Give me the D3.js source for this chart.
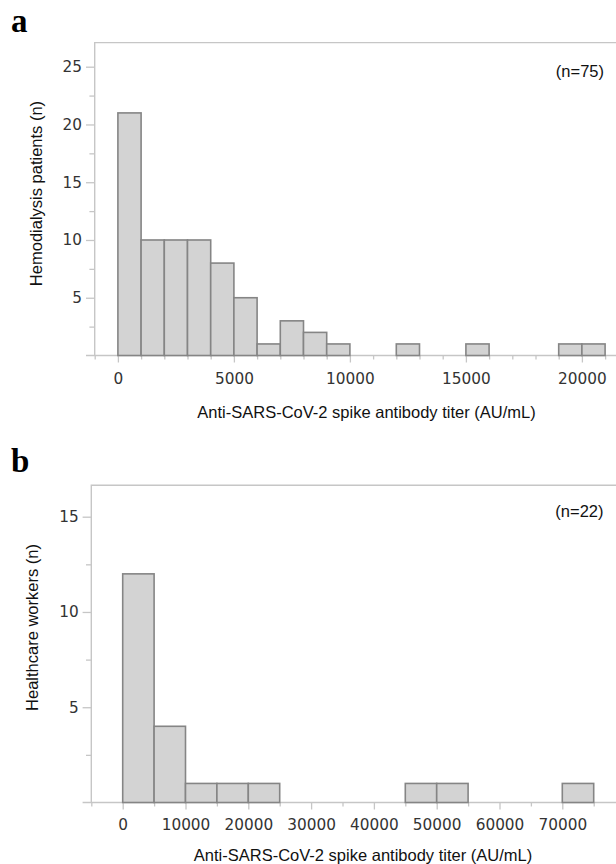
<!DOCTYPE html>
<html>
<head>
<meta charset="utf-8">
<script src="https://cdn.jsdelivr.net/npm/d3@7"></script>
<style>
  html, body { margin: 0; padding: 0; background: #fff; }
  svg { display: block; }
</style>
</head>
<body>
<svg id="chart" width="616" height="864"></svg>
<script>
// panel a: hemodialysis patients, bins of 1000 AU/mL
const hdBinStart = [0, 1000, 2000, 3000, 4000, 5000, 6000, 7000, 8000, 9000, 12000, 15000, 19000, 20000];
const hdCounts = [21, 10, 10, 10, 8, 5, 1, 3, 2, 1, 1, 1, 1, 1];
const hdBinWidth = 1000;
const hdXTicks = [0, 5000, 10000, 15000, 20000];
const hdYTicks = [5, 10, 15, 20, 25];

// panel b: healthcare workers, bins of 5000 AU/mL
const hcwBinStart = [0, 5000, 10000, 15000, 20000, 45000, 50000, 70000];
const hcwCounts = [12, 4, 1, 1, 1, 1, 1, 1];
const hcwBinWidth = 5000;
const hcwXTicks = [0, 10000, 20000, 30000, 40000, 50000, 60000, 70000];
const hcwYTicks = [5, 10, 15];

const xTitle = 'Anti-SARS-CoV-2 spike antibody titer (AU/mL)';

const svg = d3.select('#chart');

const drawPanel = (p) => {
  const g = svg.append('g');

  const x = d3.scaleLinear().domain(p.xDomain).range(p.xRange);
  const y = d3.scaleLinear().domain([0, p.yRef]).range(p.yRange);

  const axisCol = '#c6c6c6';
  const left = x(p.xDomain[0]);
  const bottom = y(0);
  const top = y(p.yTop);

  // frame (runs off the right edge like the original)
  g.append('path')
    .attr('d', `M${left},${bottom}V${top}H${640}`)
    .attr('fill', 'none')
    .attr('stroke', axisCol)
    .attr('stroke-width', 1.4);
  g.append('line')
    .attr('x1', left - 8.7).attr('x2', 640)
    .attr('y1', bottom).attr('y2', bottom)
    .attr('stroke', axisCol).attr('stroke-width', 1.4);

  // minor x ticks
  const minorX = d3.range(p.xDomain[0], p.xDomain[1] + 1, p.xMinor).filter(v => !p.xTicks.includes(v));
  g.append('g')
    .attr('transform', `translate(0,${bottom})`)
    .call(d3.axisBottom(x).tickValues(minorX).tickSize(4).tickFormat(''))
    .call(a => a.select('.domain').remove())
    .call(a => a.selectAll('line').attr('stroke', axisCol).attr('stroke-width', 1.3));

  // major x ticks with labels
  g.append('g')
    .attr('transform', `translate(0,${bottom})`)
    .call(d3.axisBottom(x).tickValues(p.xTicks).tickSize(7).tickPadding(p.xPad).tickFormat(d3.format('d')))
    .call(a => a.select('.domain').remove())
    .call(a => a.selectAll('line').attr('stroke', axisCol).attr('stroke-width', 1.3))
    .call(a => a.selectAll('text')
      .attr('font-family', 'DejaVu Sans, Verdana, sans-serif')
      .attr('font-size', 15.3)
      .attr('fill', '#333'));

  // minor y ticks at the half steps
  const minorY = p.yTicks.map(v => v - 2.5);
  g.append('g')
    .attr('transform', `translate(${left},0)`)
    .call(d3.axisLeft(y).tickValues(minorY).tickSize(5.3).tickFormat(''))
    .call(a => a.select('.domain').remove())
    .call(a => a.selectAll('line').attr('stroke', axisCol).attr('stroke-width', 1.3));

  g.append('g')
    .attr('transform', `translate(${left},0)`)
    .call(d3.axisLeft(y).tickValues(p.yTicks).tickSize(8.7).tickPadding(4).tickFormat(d3.format('d')))
    .call(a => a.select('.domain').remove())
    .call(a => a.selectAll('line').attr('stroke', axisCol).attr('stroke-width', 1.3))
    .call(a => a.selectAll('text')
      .attr('font-family', 'DejaVu Sans, Verdana, sans-serif')
      .attr('font-size', 15.3)
      .attr('fill', '#333'));

  // bars
  const rows = p.starts.map((s, i) => ({ x0: s, x1: s + p.binWidth, n: p.counts[i] }));
  g.selectAll('rect.bar')
    .data(rows)
    .enter().append('rect')
      .attr('class', 'bar')
      .attr('x', d => x(d.x0))
      .attr('y', d => y(d.n))
      .attr('width', d => x(d.x1) - x(d.x0))
      .attr('height', d => y(0) - y(d.n))
      .attr('fill', '#d3d3d3')
      .attr('stroke', '#858585')
      .attr('stroke-width', 1.6);

  // panel letter
  svg.append('text')
    .attr('x', 11).attr('y', p.letterY)
    .attr('font-family', 'Liberation Serif, Times New Roman, serif')
    .attr('font-weight', 'bold')
    .attr('font-size', 33)
    .attr('fill', '#000')
    .text(p.letter);

  // y title
  svg.append('text')
    .attr('transform', `translate(${p.yTitleX},${p.yTitleY}) rotate(-90)`)
    .attr('text-anchor', 'middle')
    .attr('font-family', 'Liberation Sans, Arial, sans-serif')
    .attr('font-size', 16.5)
    .attr('fill', '#111')
    .text(p.yTitle);

  // x title
  svg.append('text')
    .attr('x', p.xTitleX).attr('y', p.xTitleY)
    .attr('text-anchor', 'middle')
    .attr('font-family', 'Liberation Sans, Arial, sans-serif')
    .attr('font-size', 16.5)
    .attr('fill', '#111')
    .text(xTitle);

  // n label
  svg.append('text')
    .attr('x', p.nX).attr('y', p.nY)
    .attr('text-anchor', 'end')
    .attr('font-family', 'Liberation Sans, Arial, sans-serif')
    .attr('font-size', 16.5)
    .attr('fill', '#111')
    .text(p.nLabel);
};

drawPanel({
  letter: 'a', letterY: 32,
  starts: hdBinStart, counts: hdCounts, binWidth: hdBinWidth,
  xDomain: [-1000, 22000], xRange: [94.7, 628.3], xMinor: 1000, xTicks: hdXTicks, xPad: 10.9,
  yRef: 25, yRange: [355.5, 66.7], yTop: 27.08, yTicks: hdYTicks,
  yTitle: 'Hemodialysis patients (n)', yTitleX: 41.5, yTitleY: 193.5,
  xTitleX: 366.5, xTitleY: 418,
  nLabel: '(n=75)', nX: 604, nY: 77
});

drawPanel({
  letter: 'b', letterY: 471.5,
  starts: hcwBinStart, counts: hcwCounts, binWidth: hcwBinWidth,
  xDomain: [-5000, 80000], xRange: [91.3, 625.1], xMinor: 5000, xTicks: hcwXTicks, xPad: 9.6,
  yRef: 15, yRange: [802.5, 516.7], yTop: 16.65, yTicks: hcwYTicks,
  yTitle: 'Healthcare workers (n)', yTitleX: 37.5, yTitleY: 627.5,
  xTitleX: 363, xTitleY: 861,
  nLabel: '(n=22)', nX: 603.5, nY: 517
});
</script>
</body>
</html>
